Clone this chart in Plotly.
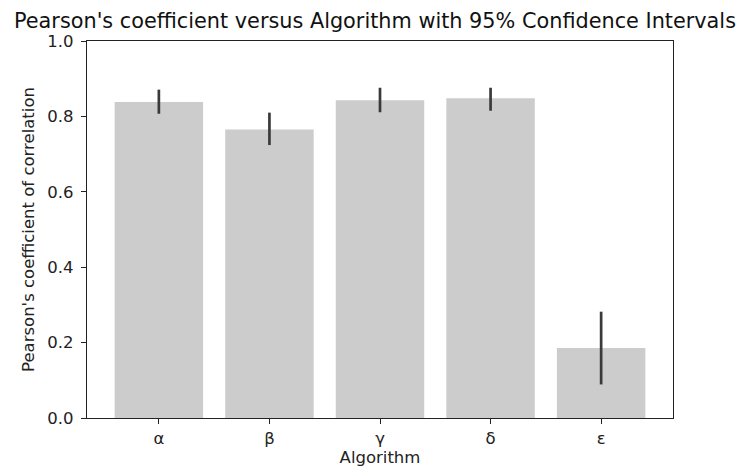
import plotly.graph_objects as go

algorithms = ["α", "β", "γ", "δ", "ε"]
pearson = [0.838, 0.765, 0.843, 0.848, 0.186]
ci_upper = [0.871, 0.810, 0.876, 0.876, 0.282]
ci_lower = [0.807, 0.724, 0.811, 0.815, 0.089]
y_ticks = [0.0, 0.2, 0.4, 0.6, 0.8, 1.0]
y_ticklabels = ["0.0", "0.2", "0.4", "0.6", "0.8", "1.0"]

err_plus = [u - v for u, v in zip(ci_upper, pearson)]
err_minus = [v - l for v, l in zip(pearson, ci_lower)]

W, H = 739, 467  # page body has an 8px margin

fig = go.Figure()
fig.add_trace(go.Bar(
    x=algorithms, y=pearson,
    marker=dict(color="rgb(204,204,204)", line=dict(width=0)),
    error_y=dict(type="data", symmetric=False, array=err_plus, arrayminus=err_minus,
                 width=0, thickness=2.7, color="#3a3a3a"),
))

font = "DejaVu Sans, sans-serif"
fig.update_layout(
    width=W, height=H,
    margin=dict(l=79, r=74, t=33, b=55),
    paper_bgcolor="white", plot_bgcolor="white",
    showlegend=False,
    bargap=0.2,
    font=dict(family=font, size=16, color="#222"),
    title=dict(text="Pearson's coefficient versus Algorithm with 95% Confidence Intervals",
               x=367 / W, xref="container", xanchor="center",
               y=1 - 12.5 / H, yref="container", yanchor="middle",
               font=dict(family=font, size=20.8, color="#111")),
)
fig.update_xaxes(
    range=[-0.65, 4.65], showline=True, linecolor="#222", linewidth=1.2, mirror=True,
    ticks="outside", ticklen=5, tickcolor="#222", showgrid=False, zeroline=False,
    title=dict(text="Algorithm", standoff=4, font=dict(size=16.5)),
    tickfont=dict(size=16.5),
)
fig.update_yaxes(
    range=[0, 1.0], tickvals=y_ticks, ticktext=y_ticklabels,
    showline=True, linecolor="#222", linewidth=1.2, mirror=True,
    ticks="outside", ticklen=5, tickcolor="#222", showgrid=False, zeroline=False,
    title=dict(text="Pearson's coefficient of correlation", standoff=8, font=dict(size=16.5)),
    tickfont=dict(size=16.5), ticklabelstandoff=4,
)
fig.write_html("out.html")
